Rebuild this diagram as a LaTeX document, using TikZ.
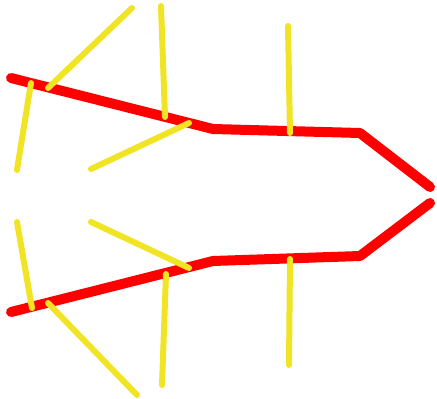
\documentclass[tikz,border=0pt]{standalone}
\usepackage{xcolor}
\definecolor{rojoRama}{HTML}{FF0000}
\definecolor{amarilloHoja}{HTML}{F0E424}
\usepackage{tikz}
\usetikzlibrary{calc}

\begin{document}
\begin{tikzpicture}[x=1pt,y=-1pt,
 stem/.style={draw=rojoRama,line width=10pt,line cap=round,line join=round},
 leaf/.style={draw=amarilloHoja,line width=6pt,line cap=round}]
 \useasboundingbox (0,0) rectangle (437,399);
 % ramas rojas
 \coordinate (uA) at (11,78);  \coordinate (uB) at (213,129);
 \coordinate (uC) at (360,133); \coordinate (uD) at (430,187);
 \coordinate (lA) at (11,312); \coordinate (lB) at (213,261);
 \coordinate (lC) at (360,256); \coordinate (lD) at (430,203);
 \draw[stem] (uA)--(uB)--(uC)--(uD);
 \draw[stem] (lA)--(lB)--(lC)--(lD);
 % hojas de arriba
 \draw[leaf] (132,8)--(48,88);
 \draw[leaf] (31,83)--(17,170);
 \draw[leaf] (161,6)--(165,117);
 \draw[leaf] (189,123)--(91,169);
 \draw[leaf] (288,26)--(290,133);
 % hojas de abajo
 \draw[leaf] (17,222)--(32,308);
 \draw[leaf] (48,303)--(137,395);
 \draw[leaf] (91,222)--(189,268);
 \draw[leaf] (166,274)--(162,385);
 \draw[leaf] (290,259)--(289,365);
\end{tikzpicture}
\end{document}
